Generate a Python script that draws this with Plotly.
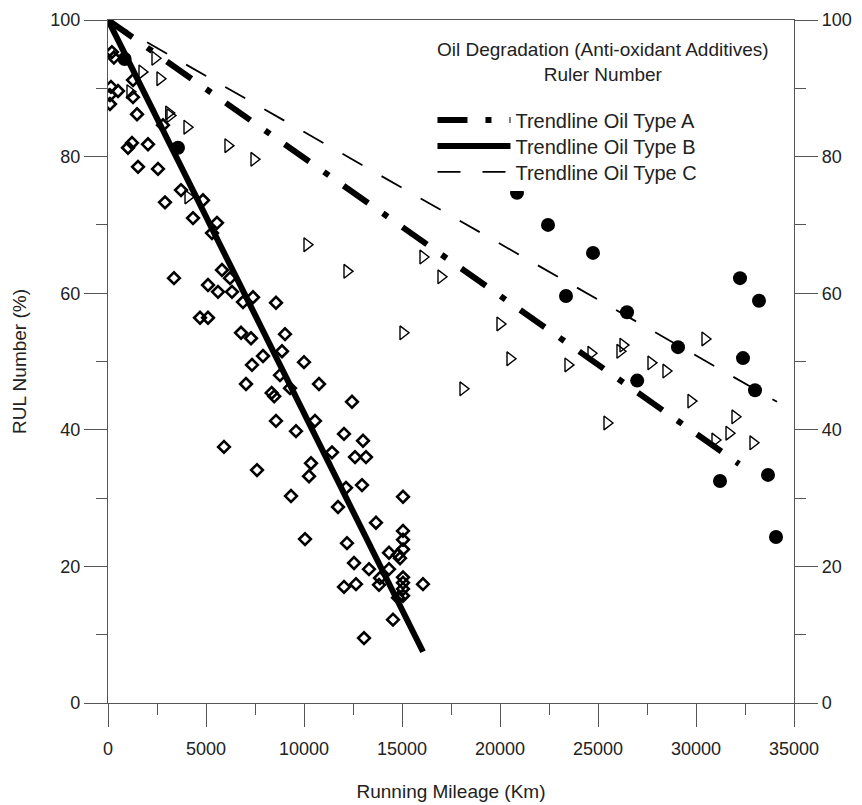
import plotly.graph_objects as go

# ---- data ----
oil_a_x = [850, 3571, 20867, 22449, 23367, 24745, 26480, 27000, 29082, 31224,
           32245, 32398, 33010, 33214, 33673, 34082]
oil_a_y = [94.3, 81.3, 74.7, 70.0, 59.6, 65.9, 57.2, 47.2, 52.1, 32.5,
           62.2, 50.5, 45.8, 58.9, 33.4, 24.3]

oil_b_x = [200, 300, 150, 510, 100, 100, 1276, 1276, 1480, 1224, 1020, 2041, 1531,
           2551, 3724, 2908, 4847, 2806, 4337, 5561, 5306, 3367, 5816, 6224, 5102,
           5612, 6327, 6888, 7398, 4694, 5102, 6786, 7296, 7908, 7347, 7041, 8571,
           9031, 8878, 10000, 8776, 9286, 10765, 8350, 8480, 12449, 8571, 9592,
           10561, 12041, 13010, 11429, 12602, 13163, 10357, 7602, 10255, 12959,
           12143, 9337, 15051, 11735, 13673, 10051, 12194, 15051, 15051, 15051,
           14337, 14800, 14900, 12551, 13316, 14337, 13878, 15051, 15051, 15051,
           15051, 16071, 12041, 12653, 13827, 14796, 14541, 13061, 5918]
oil_b_y = [95.3, 94.5, 90.2, 89.6, 89.0, 87.7, 91.2, 88.7, 86.2, 82.0, 81.3, 81.8, 78.5,
           78.2, 75.1, 73.3, 73.6, 84.6, 71.0, 70.3, 68.8, 62.2, 63.4, 62.2, 61.2,
           60.2, 60.2, 58.7, 59.4, 56.4, 56.4, 54.2, 53.4, 50.8, 49.5, 46.7, 58.6,
           54.0, 51.5, 49.9, 48.0, 46.1, 46.7, 45.4, 44.9, 44.1, 41.3, 39.8,
           41.3, 39.4, 38.4, 36.7, 36.0, 36.0, 35.1, 34.1, 33.2, 31.9,
           31.5, 30.3, 30.2, 28.7, 26.4, 24.0, 23.4, 25.2, 23.9, 22.5,
           22.0, 21.7, 21.2, 20.5, 19.6, 19.6, 18.3, 18.4, 17.6, 16.7,
           15.7, 17.4, 17.0, 17.4, 17.3, 15.4, 12.2, 9.5, 37.5]

oil_c_x = [1122, 1735, 2398, 2653, 3100, 3163, 4031, 4082, 6122, 7449, 10153, 12194,
           15051, 16071, 16990, 18112, 20000, 20510, 23469, 24643, 25459, 26122,
           26276, 27704, 28469, 29745, 30459, 30969, 31684, 31990, 32908]
oil_c_y = [89.5, 92.4, 94.4, 91.4, 86.4, 86.0, 84.3, 74.1, 81.6, 79.6, 67.1, 63.2,
           54.2, 65.3, 62.4, 46.0, 55.5, 50.4, 49.5, 51.2, 41.0, 51.5,
           52.4, 49.8, 48.6, 44.2, 53.3, 38.5, 39.5, 41.9, 38.1]

trend_a_x = [0, 32200]
trend_a_y = [100, 35.0]
trend_b_x = [0, 16071]
trend_b_y = [100, 7.5]
trend_c_x = [0, 34133]
trend_c_y = [100, 44.1]

x_ticks = [0, 5000, 10000, 15000, 20000, 25000, 30000, 35000]
x_tick_labels = ["0", "5000", "10000", "15000", "20000", "25000", "30000", "35000"]
y_ticks = [0, 20, 40, 60, 80, 100]
y_tick_labels = ["0", "20", "40", "60", "80", "100"]

legend_title = "Oil Degradation (Anti-oxidant Additives)<br>Ruler Number"

FONT = "Liberation Sans, Arial, sans-serif"
AX = "#555555"
TXT = "#222222"

fig = go.Figure()

fig.add_trace(go.Scatter(x=oil_b_x, y=oil_b_y, mode="markers", showlegend=False,
                         marker=dict(symbol="diamond-open", size=9, color="black",
                                     line=dict(width=2.6, color="black"))))
fig.add_trace(go.Scatter(x=oil_c_x, y=oil_c_y, mode="markers", showlegend=False,
                         marker=dict(symbol="triangle-right-open", size=12, color="black",
                                     line=dict(width=1.4, color="black"))))
fig.add_trace(go.Scatter(x=oil_a_x, y=oil_a_y, mode="markers", showlegend=False,
                         marker=dict(symbol="circle", size=14, color="black",
                                     line=dict(width=0))))

fig.add_trace(go.Scatter(x=trend_a_x, y=trend_a_y, mode="lines", name="Trendline Oil Type A",
                         legend="legend3",
                         line=dict(color="black", width=6, dash="30px,18px,6px,18px")))
fig.add_trace(go.Scatter(x=trend_b_x, y=trend_b_y, mode="lines", name="Trendline Oil Type B",
                         legend="legend2",
                         line=dict(color="black", width=6)))
fig.add_trace(go.Scatter(x=trend_c_x, y=trend_c_y, mode="lines", name="Trendline Oil Type C",
                         yaxis="y2", legend="legend",
                         line=dict(color="black", width=1.8, dash="23px,22px")))

legend_common = dict(x=0.473, xanchor="left", yanchor="middle",
                     borderwidth=0, itemwidth=73,
                     font=dict(size=20, color=TXT))

fig.update_layout(
    width=862, height=805,
    margin=dict(l=100, r=76, t=12, b=110, autoexpand=False),
    paper_bgcolor="white", plot_bgcolor="white",
    font=dict(family=FONT, size=17, color=TXT),
    xaxis=dict(range=[0, 35000], tickmode="array", tickvals=x_ticks, ticktext=x_tick_labels,
               ticks="outside", ticklen=23, tickwidth=1.2, tickcolor=AX,
               showline=True, linecolor=AX, linewidth=1.2, mirror=True,
               showgrid=False, zeroline=False, automargin=False, ticklabelstandoff=6,
               tickfont=dict(size=18),
               minor=dict(dtick=2500, ticks="outside", ticklen=11, tickcolor=AX, tickwidth=1.2,
                          showgrid=False),
               title=dict(text="Running Mileage (Km)", standoff=26, font=dict(size=19))),
    yaxis=dict(range=[0, 100], tickmode="array", tickvals=y_ticks, ticktext=y_tick_labels,
               ticks="outside", ticklen=23, tickwidth=1.2, tickcolor=AX,
               showline=True, linecolor=AX, linewidth=1.2,
               showgrid=False, zeroline=False, automargin=False, ticklabelstandoff=0,
               tickfont=dict(size=18),
               minor=dict(dtick=10, ticks="outside", ticklen=11, tickcolor=AX, tickwidth=1.2,
                          showgrid=False),
               title=dict(text="RUL Number (%)", standoff=18, font=dict(size=19))),
    yaxis2=dict(range=[0, 100], overlaying="y", side="right", matches="y",
                tickmode="array", tickvals=y_ticks, ticktext=y_tick_labels,
                ticks="outside", ticklen=23, tickwidth=1.2, tickcolor=AX,
                showline=True, linecolor=AX, linewidth=1.2,
                showgrid=False, zeroline=False, automargin=False, ticklabelstandoff=0,
                tickfont=dict(size=18),
                minor=dict(dtick=10, ticks="outside", ticklen=11, tickcolor=AX, tickwidth=1.2,
                           showgrid=False)),
    legend=dict(y=0.7775, bgcolor="white", **legend_common),
    legend2=dict(y=0.8155, bgcolor="rgba(0,0,0,0)", **legend_common),
    legend3=dict(y=0.8536, bgcolor="rgba(0,0,0,0)", **legend_common),
    annotations=[dict(text=legend_title, xref="paper", yref="paper",
                      x=0.7216, y=0.975, xanchor="center", yanchor="top",
                      align="center", showarrow=False,
                      font=dict(size=19, color=TXT))],
)

fig.write_html("out.html")
